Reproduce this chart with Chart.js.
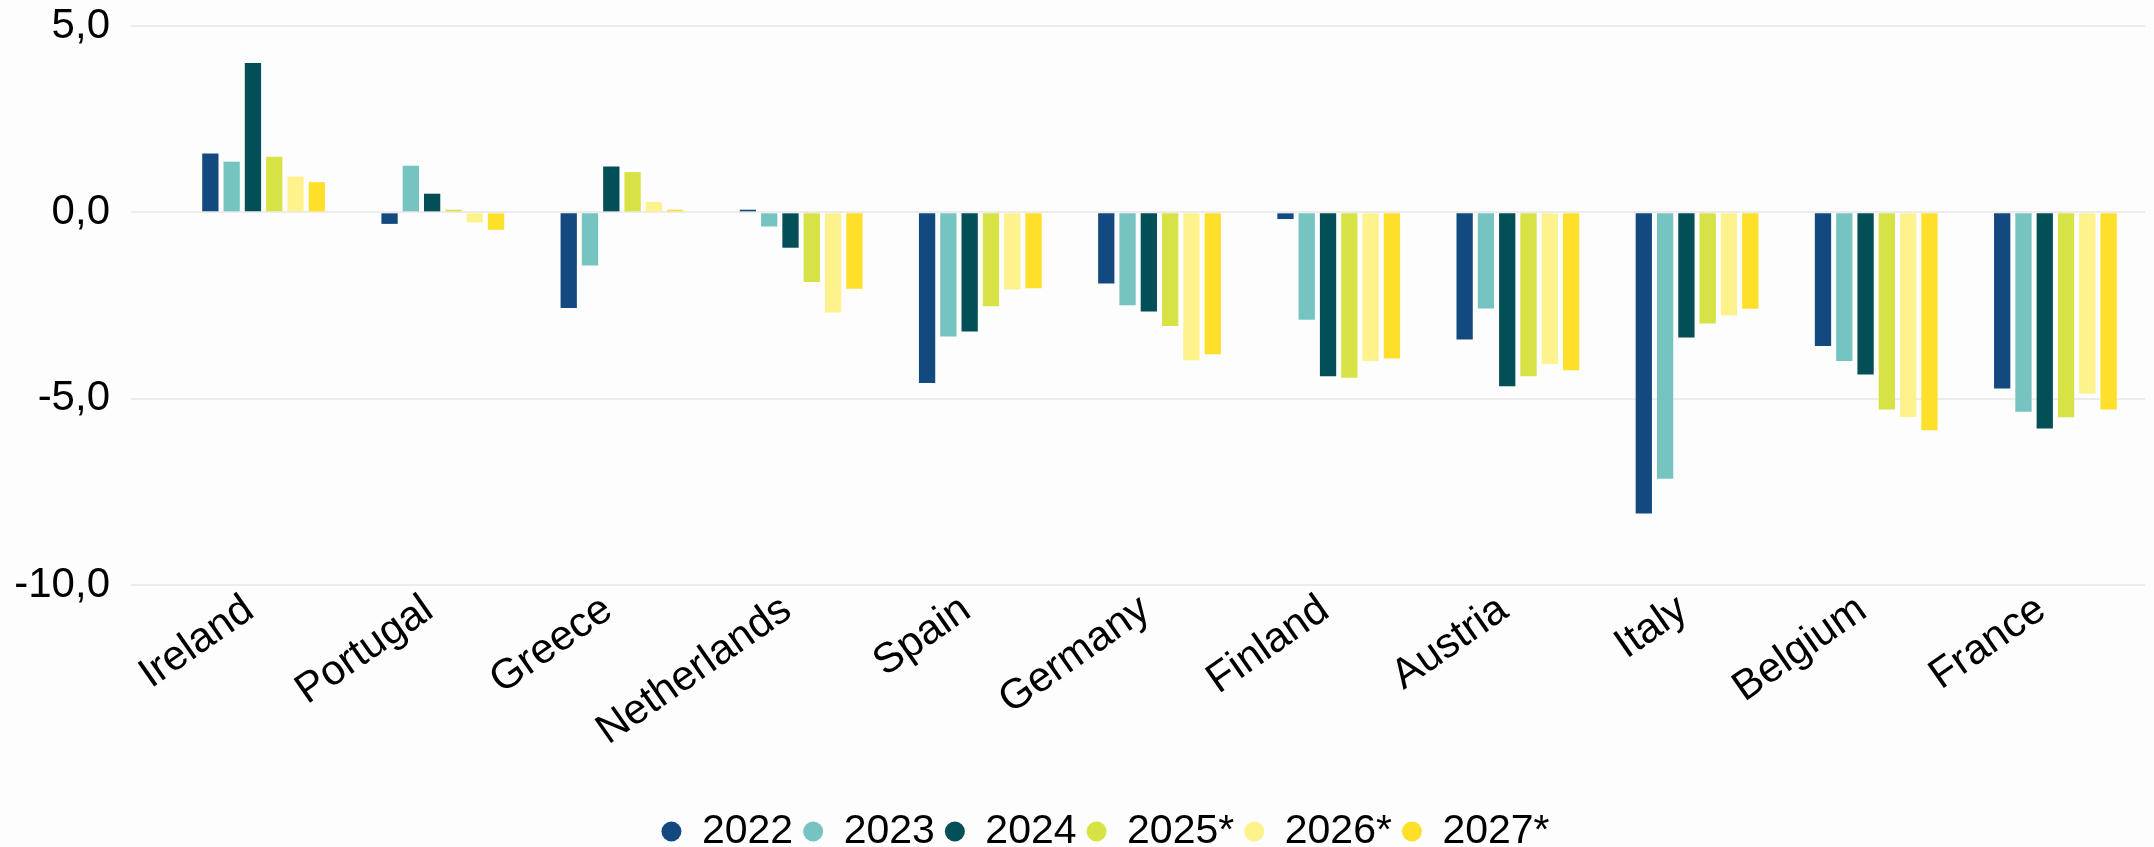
<!DOCTYPE html>
<html lang="en">
<head>
    <meta charset="UTF-8">
    <title>Budget balance</title>
    <script src="https://cdn.jsdelivr.net/npm/chart.js"></script>
    <style>
        html, body {
            margin: 0;
            padding: 0;
            background-color: #fdfdfd;
        }
        .wrap {
            position: relative;
            width: 2154px;
            height: 847px;
        }
    </style>
</head>
<body>

<div class="wrap">
    <canvas id="grafico"></canvas>
</div>

<script>
// datos
const paises = ['Ireland', 'Portugal', 'Greece', 'Netherlands', 'Spain', 'Germany', 'Finland', 'Austria', 'Italy', 'Belgium', 'France'];
const anios = ['2022', '2023', '2024', '2025*', '2026*', '2027*'];
const colores = ['#124a80', '#76c4c2', '#034f57', '#d7e244', '#fef28d', '#fedf2a'];

const y2022 = [1.58, -0.31, -2.57, 0.07, -4.58, -1.91, -0.18, -3.41, -8.08, -3.59, -4.73];
const y2023 = [1.36, 1.25, -1.43, -0.38, -3.33, -2.49, -2.88, -2.58, -7.15, -3.99, -5.35];
const y2024 = [4.01, 0.50, 1.23, -0.95, -3.20, -2.66, -4.40, -4.67, -3.36, -4.35, -5.80];
const y2025 = [1.49, 0.07, 1.08, -1.87, -2.52, -3.05, -4.44, -4.40, -2.98, -5.29, -5.50];
const y2026 = [0.96, -0.27, 0.28, -2.69, -2.07, -3.97, -3.99, -4.07, -2.77, -5.49, -4.86];
const y2027 = [0.81, -0.47, 0.07, -2.05, -2.04, -3.81, -3.92, -4.24, -2.59, -5.85, -5.29];

const ticksY = [5, 0, -5, -10];

const series = [y2022, y2023, y2024, y2025, y2026, y2027];

const datasets = series.map((valores, i) => ({
    label: anios[i],
    data: valores,
    backgroundColor: colores[i],
    borderWidth: 0,
    categoryPercentage: 0.713,
    barPercentage: 0.765
}));

// la leyenda del original no está centrada en el lienzo, la movemos un poco
const moverLeyenda = {
    id: 'moverLeyenda',
    afterLayout(chart) {
        chart.legend.left += 33;
        chart.legend.right += 33;
    }
};

Chart.defaults.font.family = "'Liberation Sans', Arial, sans-serif";
Chart.defaults.color = '#000';

new Chart(document.getElementById('grafico'), {
    type: 'bar',
    data: { labels: paises, datasets: datasets },
    plugins: [moverLeyenda],
    options: {
        responsive: true,
        maintainAspectRatio: false,
        animation: false,
        layout: { padding: { top: 26, right: 9, left: 0, bottom: -15 } },
        plugins: {
            tooltip: { enabled: false },
            legend: {
                position: 'bottom',
                labels: {
                    usePointStyle: true,
                    pointStyle: 'circle',
                    boxHeight: 14,
                    pointStyleWidth: 20,
                    padding: 10,
                    font: { size: 41 }
                }
            }
        },
        scales: {
            x: {
                grid: { display: false },
                border: { display: false },
                ticks: {
                    minRotation: 35,
                    maxRotation: 35,
                    padding: -8,
                    labelOffset: -14,
                    font: { size: 42 }
                },
                afterFit: (scale) => { scale.height = 216; }
            },
            y: {
                min: -10,
                max: 5,
                border: { display: false },
                grid: {
                    color: '#ececec',
                    lineWidth: 2,
                    tickLength: 43,
                    tickColor: '#ececec'
                },
                afterBuildTicks: (scale) => {
                    scale.ticks = ticksY.map(v => ({ value: v }));
                },
                ticks: {
                    padding: 21,
                    font: { size: 42 },
                    callback: (v) => v.toFixed(1).replace('.', ',')
                },
                afterFit: (scale) => {
                    scale.width = 174;
                    scale.paddingTop = 0;
                    scale.paddingBottom = 0;
                }
            }
        }
    }
});
</script>

</body>
</html>
